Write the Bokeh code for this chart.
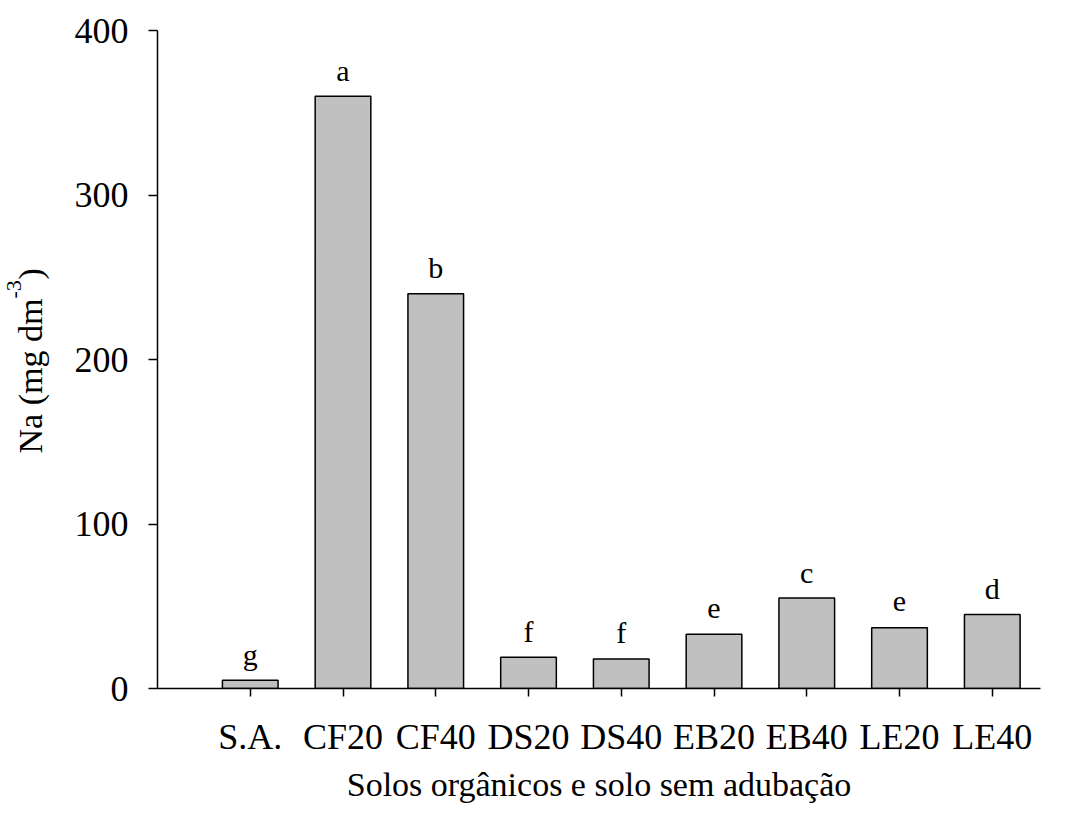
from bokeh.plotting import figure
from bokeh.models import Range1d, FixedTicker, ColumnDataSource
from bokeh.layouts import row
from bokeh.core.properties import value
from bokeh.embed import file_html
from bokeh.resources import INLINE
import math

categories = ["S.A.", "CF20", "CF40", "DS20", "DS40", "EB20", "EB40", "LE20", "LE40"]
na_values = [5, 360, 240, 19, 18, 33, 55, 37, 45]
letters = ["g", "a", "b", "f", "f", "e", "c", "e", "d"]
y_ticks = [0, 100, 200, 300, 400]

FONT = "Liberation Serif"
H = 805
LW = 60          # width of the strip that holds the y-axis title
BASE_FIX = 0.43  # observed baseline drop of SVG text (fraction of font size)

# frame geometry of the main plot (page pixels)
FL, FR, FT, FB = 157, 1040, 30, 688
X0, X1 = -1.0, 8.52
px_per_y = (FB - FT) / 400.0

xs = list(range(len(categories)))
LETTER_PX = 30
letter_y = [v + (13 + BASE_FIX * LETTER_PX) / px_per_y for v in na_values]
src = ColumnDataSource(dict(x=xs, top=na_values, letter=letters, ly=letter_y))

p = figure(width=1050 - LW, height=H, output_backend="svg", toolbar_location=None,
           x_range=Range1d(X0, X1), y_range=Range1d(0, 400),
           min_border_left=FL - LW, min_border_right=1050 - FR,
           min_border_top=FT, min_border_bottom=H - FB)
p.outline_line_color = None
p.grid.visible = False

p.vbar(x="x", top="top", width=0.6, bottom=0, source=src,
       fill_color="#C0C0C0", line_color="black", line_width=1.5)

p.text(x="x", y="ly", text="letter", source=src,
       text_align="center", text_baseline="alphabetic",
       text_font=value(FONT), text_font_size=f"{LETTER_PX}px", text_color="black")

# axes
p.xaxis.ticker = FixedTicker(ticks=xs)
p.xaxis.major_label_overrides = {i: c for i, c in zip(xs, categories)}
p.yaxis.ticker = FixedTicker(ticks=y_ticks)
for ax in (p.xaxis, p.yaxis):
    ax.axis_line_width = 1.5
    ax.major_tick_line_width = 1.5
    ax.major_tick_in = 0
    ax.major_tick_out = 8
    ax.minor_tick_line_color = None
    ax.major_label_text_font = FONT
    ax.major_label_text_font_size = "36px"
    ax.major_label_text_color = "black"
    ax.axis_line_color = "black"
    ax.major_tick_line_color = "black"

p.yaxis.major_tick_out = 9
p.yaxis.major_label_standoff = 20
p.xaxis.major_label_standoff = 20

p.xaxis.axis_label = "Solos orgânicos e solo sem adubação"
p.xaxis.axis_label_text_font = FONT
p.xaxis.axis_label_text_font_size = "34px"
p.xaxis.axis_label_text_font_style = "normal"
p.xaxis.axis_label_text_color = "black"
p.xaxis.axis_label_standoff = 6

# strip with the rotated y-axis title; its frame is aligned with the main
# frame by the row layout, so data y = H - page y inside [H-FB, H-FT]
t = figure(width=LW, height=H, output_backend="svg", toolbar_location=None,
           x_range=Range1d(0, LW), y_range=Range1d(H - FB, H - FT),
           x_axis_location=None, y_axis_location=None, min_border=0)
t.outline_line_color = None
t.grid.visible = False

ang = math.pi / 2
title_parts = ["Na (mg dm", "-3", ")"]
part_size = [34, 22, 34]
part_base_x = [45, 23, 45]          # wanted baseline (page x)
part_start_y = [453, 298, 279]      # wanted start (page y)
for txt, bx, sy, s in zip(title_parts, part_base_x, part_start_y, part_size):
    t.text(x=[bx - BASE_FIX * s], y=[H - sy], text=[txt], angle=ang,
           text_align="left", text_baseline="alphabetic",
           text_font=value(FONT), text_font_size=f"{s}px", text_color="black")

layout = row(t, p)
open("out.html", "w").write(file_html(layout, INLINE))
